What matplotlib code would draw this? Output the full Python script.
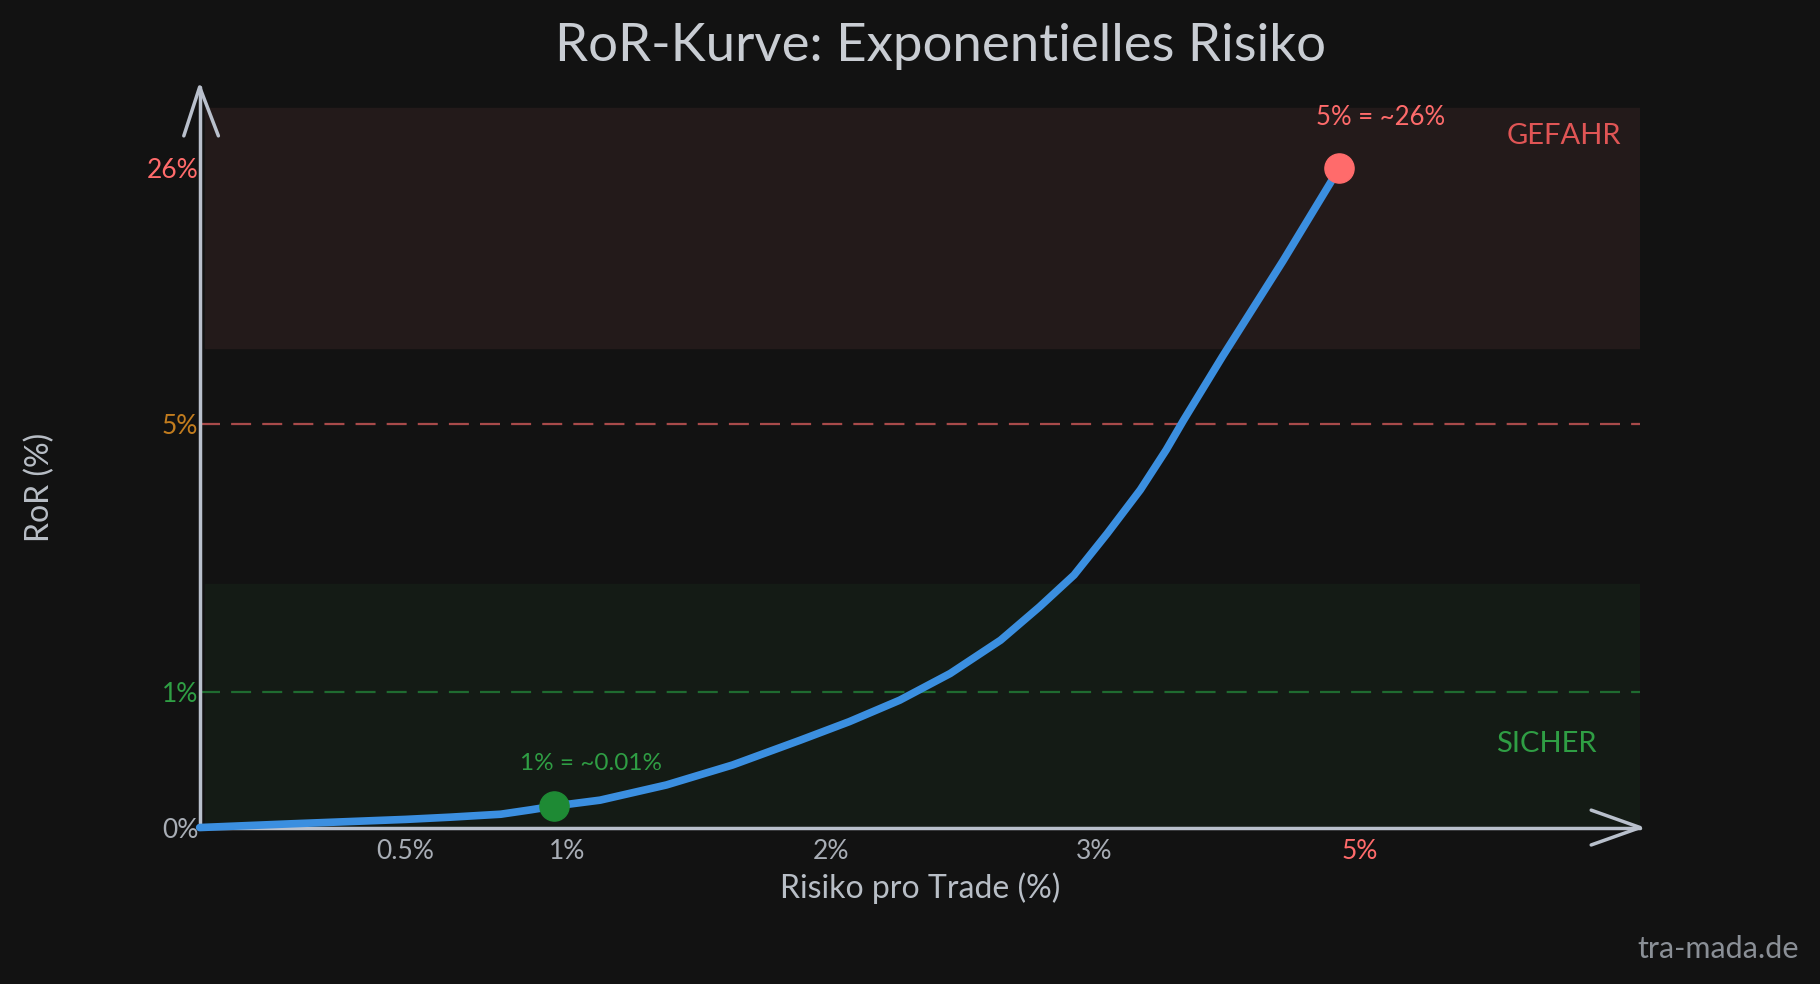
import matplotlib
matplotlib.use("Agg")
import matplotlib.pyplot as plt

# chart units: both axes run 0..100 (schematic, non-linear scales as in the sketch)
x_tick_pos = [14.3, 25.5, 43.8, 62.1, 80.5]
x_tick_labels = ["0.5%", "1%", "2%", "3%", "5%"]
y_tick_pos = [0, 18.3, 54.5, 89.0]
y_tick_labels = ["0%", "1%", "5%", "26%"]

curve_x = [0, 6.3, 14.3, 17.4, 20.9, 23.0, 24.6, 27.8, 32.4, 37.0, 41.7, 45.1, 48.6,
           52.1, 55.6, 58.3, 60.7, 63.0, 65.3, 67.1, 68.3, 71.0, 75.2, 79.1]
curve_y = [0, 0.5, 1.1, 1.4, 1.8, 2.4, 2.9, 3.7, 5.75, 8.45, 11.8, 14.3, 17.2,
           20.8, 25.3, 29.8, 34.1, 39.7, 45.6, 51.0, 55.0, 63.6, 76.5, 89.0]

safe_point = (24.6, 2.9)
danger_point = (79.1, 89.0)

danger_band = (64.7, 97.2)
safe_band = (0, 32.9)

BG = "#121212"
AXIS = "#b9c0cc"
BLUE = "#3b8fe0"
RED = "#ff6b6b"
GREEN = "#2f9e44"
ORANGE = "#c27c1e"
GRAY = "#a8adb5"

plt.rcParams["font.family"] = ["Lato", "DejaVu Sans"]

fig = plt.figure(figsize=(18.2, 9.84), dpi=100, facecolor=BG)
ax = fig.add_axes([0.1097, 0.159, 0.7915, 0.7526])
ax.set_facecolor(BG)
ax.set_xlim(0, 100)
ax.set_ylim(0, 100)
for s in ax.spines.values():
    s.set_visible(False)

# zones
ax.axhspan(danger_band[0], danger_band[1], xmin=0.004, xmax=1.0, color="#231a1a", zorder=0)
ax.axhspan(safe_band[0], safe_band[1], xmin=0.004, xmax=1.0, color="#141b15", zorder=0)

# threshold lines
ax.plot([0, 100], [y_tick_pos[2]] * 2, color="#a84a4a", lw=1.6, dashes=(9, 5), zorder=1)
ax.plot([0, 100], [y_tick_pos[1]] * 2, color="#1f6b30", lw=1.6, dashes=(9, 5), zorder=1)

# axes with open arrowheads
ax.plot([0, 100], [0, 0], color=AXIS, lw=2.5, clip_on=False, zorder=3, solid_capstyle="round")
ax.plot([0, 0], [0, 100], color=AXIS, lw=2.5, clip_on=False, zorder=3, solid_capstyle="round")
ax.plot([96.6, 100, 96.6], [2.35, 0, -2.35], color=AXIS, lw=2.5, clip_on=False, zorder=3,
        solid_capstyle="round", solid_joinstyle="round")
ax.plot([-1.1, 0, 1.3], [93.4, 100, 93.4], color=AXIS, lw=2.5, clip_on=False, zorder=3,
        solid_capstyle="round", solid_joinstyle="round")

# curve
ax.plot(curve_x, curve_y, color=BLUE, lw=5.5, solid_capstyle="round", solid_joinstyle="round",
        clip_on=False, zorder=4)
ax.plot(*safe_point, "o", color="#1e8a34", ms=21, zorder=5)
ax.plot(*danger_point, "o", color=RED, ms=21, zorder=5)

# ticks
ax.set_xticks(x_tick_pos)
ax.set_xticklabels(x_tick_labels, fontsize=19)
ax.tick_params(axis="x", length=0, pad=8)
for lbl, c in zip(ax.get_xticklabels(), [GRAY, GRAY, GRAY, GRAY, RED]):
    lbl.set_color(c)
ax.set_yticks(y_tick_pos)
ax.set_yticklabels(y_tick_labels, fontsize=19)
ax.tick_params(axis="y", length=0, pad=1)
for lbl, c in zip(ax.get_yticklabels(), [GRAY, GREEN, ORANGE, RED]):
    lbl.set_color(c)

ax.set_xlabel("Risiko pro Trade (%)", fontsize=23, color="#b8bec6", labelpad=6)
ax.set_ylabel("RoR (%)", fontsize=23, color="#b8bec6")
ax.yaxis.set_label_coords(-0.1, 0.459)

# annotations
ax.text(82.0, 95.9, "5% = ~26%", color=RED, fontsize=18.5, ha="center", va="center")
ax.text(94.7, 93.4, "GEFAHR", color="#e05555", fontsize=21, ha="center", va="center")
ax.text(93.5, 11.3, "SICHER", color=GREEN, fontsize=21, ha="center", va="center")
ax.text(27.2, 8.6, "1% = ~0.01%", color=GREEN, fontsize=17.5, ha="center", va="center")

fig.text(0.5165, 0.953, "RoR-Kurve: Exponentielles Risiko", color="#c9cdd3", fontsize=38,
         ha="center", va="center")
fig.text(0.944, 0.036, "tra-mada.de", color="#8a8f96", fontsize=22, ha="center", va="center")

fig.savefig("out.png", dpi=100, facecolor=BG)
